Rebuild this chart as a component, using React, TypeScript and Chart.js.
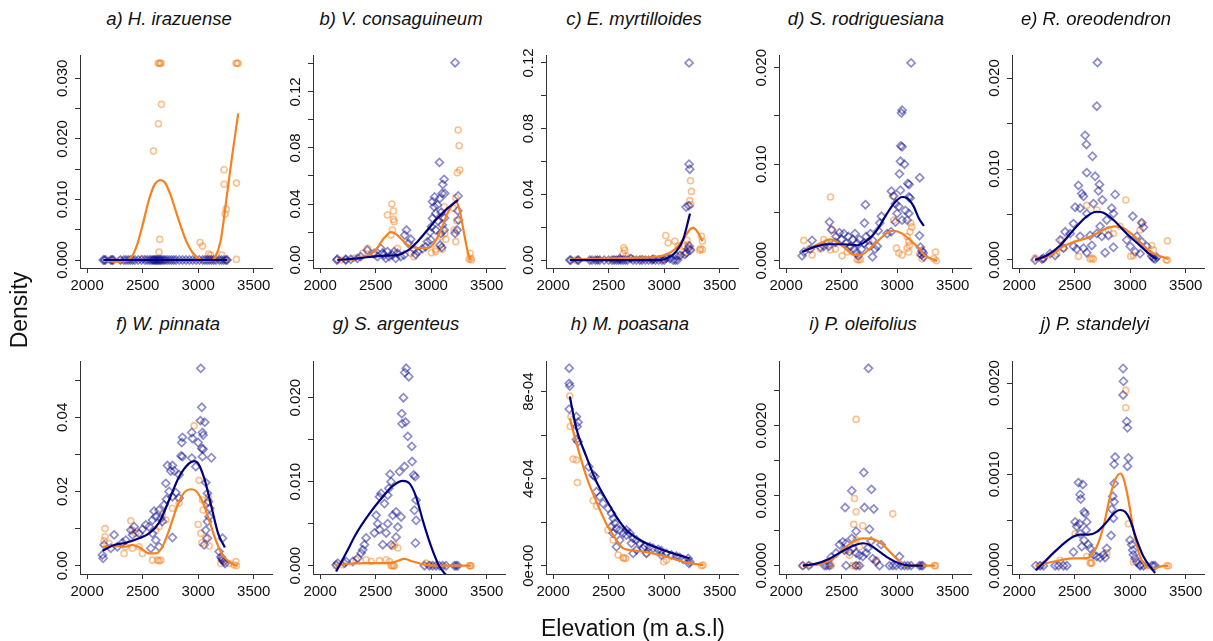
import React, { useEffect, useRef } from 'react';
import { Chart, registerables } from 'chart.js';

Chart.register(...registerables);

type P = [number, number];

// ---------- shared axis values ----------
const xTicks = [2000, 2500, 3000, 3500];
const xLimits = [1936, 3664];

// ---------- a) H. irazuense ----------
const aOrange: P[] = [[2640,0.0325],[2650,0.0325],[2658,0.0325],[2665,0.0325],[3340,0.0325],[3350,0.0325],[3358,0.0325],[2669,0.0257],[2642,0.0225],[2597,0.018],[3233,0.0149],[3233,0.0125],[3344,0.0127],[3251,0.0084],[3242,0.0076],[2654,0.0034],[2648,0.0013],[3017,0.0029],[3038,0.0023],[3095,0.001],[3113,0.0008],[3212,0.0008],[3344,0.0001],[2200,0],[2300,0],[2500,0.0002],[2600,0],[2700,0],[3100,0.0002],[3250,0]];
const aBlue: P[] = [[2145,0],[2155,0],[2165,0],[2215,0],[2225,0],[2235,0],[2300,0],[2330,0],[2350,0],[2370,0],[2390,0],[2410,0],[2430,0],[2460,0],[2490,0],[2520,0],[2540,0],[2560,0],[2575,0],[2590,0],[2600,0],[2610,0],[2620,0],[2630,0],[2640,0],[2650,0],[2660,0],[2670,0],[2685,0],[2700,0],[2720,0],[2740,0],[2760,0],[2780,0],[2800,0],[2830,0],[2860,0],[2890,0],[2920,0],[2950,0],[2980,0],[3010,0],[3040,0],[3060,0],[3080,0],[3100,0],[3120,0],[3140,0],[3160,0],[3190,0],[3210,0],[3230,0],[3250,0],[3260,0]];
const aOrangeLine: P[] = [[2150,0],[2250,-0.0003],[2330,-0.0002],[2400,0.0005],[2450,0.0025],[2500,0.0058],[2550,0.0095],[2600,0.0122],[2660,0.0132],[2700,0.0128],[2750,0.0108],[2800,0.008],[2850,0.0052],[2900,0.0028],[2950,0.0012],[3000,0.0003],[3050,-0.0001],[3110,-0.0001],[3150,0.0004],[3200,0.003],[3250,0.0095],[3300,0.0165],[3360,0.0242]];
const aBlueLine: P[] = [[2145,0],[2700,0],[3260,0]];
const aYTicks = [0, 0.005, 0.01, 0.015, 0.02, 0.025, 0.03];
const aYLabels = ['0.000', '', '0.010', '', '0.020', '', '0.030'];

// ---------- b) V. consaguineum ----------
const bOrange: P[] = [[3242,0.0928],[3251,0.0816],[3257,0.0643],[3236,0.0624],[3221,0.0445],[3200,0.0369],[3230,0.0281],[3206,0.0214],[3221,0.0131],[3116,0.038],[3101,0.0305],[3122,0.019],[3131,0.0148],[3101,0.0076],[3086,0.0167],[3041,0.0076],[3002,0.0052],[3041,0.006],[2645,0.04],[2660,0.035],[2660,0.029],[2666,0.0274],[2606,0.0321],[2651,0.0214],[2636,0.0178],[2426,0.0083],[2381,0.0048],[2486,0.0036],[2696,0.0083],[2816,0.0048],[2846,0.0024],[3350,0.0048],[3356,0.0012],[3341,0.0005],[3362,0],[2306,0.0012],[2186,0]];
const bBlue: P[] = [[3215,0.1409],[3074,0.0697],[3116,0.0576],[3104,0.054],[3098,0.0476],[3077,0.044],[3122,0.0476],[3242,0.0457],[3239,0.0352],[3245,0.0286],[3233,0.0214],[3215,0.019],[3011,0.0417],[3026,0.038],[3056,0.0393],[3041,0.0333],[3011,0.0298],[3002,0.0238],[3041,0.0214],[3086,0.019],[3116,0.0214],[3080,0.0107],[3095,0.009],[2966,0.013],[2951,0.0095],[2996,0.0143],[3030,0.045],[3060,0.028],[3090,0.034],[3120,0.03],[3100,0.025],[2990,0.02],[2777,0.0214],[2762,0.0178],[2816,0.0148],[2795,0.0119],[2846,0.0076],[2880,0.006],[2860,0.004],[2920,0.008],[2426,0.007],[2486,0.0048],[2546,0.0083],[2576,0.0036],[2606,0.006],[2651,0.0036],[2696,0.0048],[2726,0.0024],[2621,0.0024],[2666,0.006],[2561,0.005],[2756,0.0036],[2336,0.0012],[2276,0.0005],[2231,0.0005],[2150,0],[2156,0.0005],[2231,0],[2366,0.0024],[2516,0.0024],[2591,0.0012],[2681,0.0012]];
const bOrangeLine: P[] = [[2156,0],[2336,0.001],[2486,0.006],[2580,0.016],[2640,0.02],[2700,0.0175],[2786,0.0107],[2876,0.0085],[2966,0.0085],[3026,0.012],[3086,0.0214],[3161,0.0357],[3221,0.0417],[3251,0.037],[3296,0.019],[3332,0.0048],[3355,0]];
const bBlueLine: P[] = [[2156,0],[2336,0.0012],[2546,0.003],[2696,0.0036],[2786,0.0067],[2876,0.0131],[2966,0.0214],[3056,0.0298],[3146,0.0369],[3240,0.0428]];
const bYTicks = [0, 0.02, 0.04, 0.06, 0.08, 0.1, 0.12, 0.14];
const bYLabels = ['0.00', '', '0.04', '', '0.08', '', '0.12', ''];

// ---------- c) E. myrtilloides ----------
const cOrange: P[] = [[3236,0.0483],[3245,0.0418],[3230,0.0362],[3239,0.0337],[3206,0.0121],[3215,0.0095],[3239,0.0069],[3185,0.0085],[3014,0.015],[3035,0.0105],[3095,0.0115],[3125,0.0085],[3335,0.0145],[3344,0.0115],[3326,0.0069],[3344,0.0065],[3320,0.006],[2636,0.0075],[2645,0.006],[2630,0.004],[2660,0.0024],[2200,0],[2400,0.0003],[2550,0.0005],[2700,0.001],[2800,0.0008],[2900,0.0005],[3000,0.0004],[3150,0.003],[3180,0.005]];
const cBlue: P[] = [[3224,0.12],[3224,0.0584],[3230,0.0553],[3221,0.0331],[3197,0.0323],[3224,0.0085],[3215,0.0069],[3200,0.0044],[3185,0.0034],[3236,0.006],[3020,0.0014],[3110,0.0024],[3140,0.0028],[2150,0],[2160,0],[2220,0],[2230,0],[2330,0],[2350,0],[2380,0],[2400,0],[2420,0],[2460,0],[2500,0],[2530,0],[2550,0],[2570,0],[2590,0],[2600,0.0008],[2610,0],[2630,0],[2650,0],[2670,0],[2700,0.001],[2720,0],[2750,0],[2780,0],[2800,0],[2830,0],[2860,0],[2890,0],[2900,0.0006],[2920,0],[2950,0],[2980,0],[3000,0],[3050,0.001],[3080,0],[3100,0],[3120,0]];
const cOrangeLine: P[] = [[2150,0.0003],[2690,0.0014],[2900,0.0018],[3020,0.0034],[3110,0.0075],[3185,0.0141],[3239,0.0192],[3262,0.0196],[3305,0.0166],[3344,0.0115]];
const cBlueLine: P[] = [[2150,0],[2960,0],[3035,0.0014],[3110,0.0055],[3170,0.0125],[3232,0.0283]];
const cYTicks = [0, 0.02, 0.04, 0.06, 0.08, 0.1, 0.12];
const cYLabels = ['0.00', '', '0.04', '', '0.08', '', '0.12'];

// ---------- d) S. rodriguesiana ----------
const dOrange: P[] = [[2399,0.0066],[2414,0.0032],[2339,0.0022],[2369,0.0019],[2309,0.0012],[2159,0.0021],[2204,0.0012],[2234,0.0006],[2444,0.0012],[2399,0.0011],[2504,0.0005],[2549,0.0009],[2579,0.0015],[2639,0.0001],[2654,0.0001],[2669,0.0001],[2744,0.002],[2963,0.0067],[2969,0.0042],[2993,0.0013],[3014,0.0008],[3044,0.0006],[3089,0.0013],[3104,0.0009],[3110,0.0016],[3116,0.003],[3131,0.0035],[3122,0.0039],[3089,0.0025],[3104,0.002],[3203,0.0007],[3224,0.0002],[3329,0.0002],[3344,0.0009],[3353,0]];
const dBlue: P[] = [[3125,0.0205],[3044,0.0156],[3038,0.0153],[3032,0.0119],[3044,0.0118],[3029,0.0103],[3065,0.01],[3020,0.009],[3203,0.0086],[3095,0.008],[3107,0.0079],[2948,0.0072],[3029,0.0073],[3116,0.0065],[3104,0.0066],[2969,0.0067],[2984,0.0059],[3014,0.0056],[3074,0.0052],[3104,0.0049],[2999,0.0049],[3044,0.0042],[3089,0.0042],[2984,0.004],[2945,0.003],[2909,0.0028],[3200,0.0026],[2858,0.0046],[2843,0.0039],[2828,0.0031],[2714,0.0058],[2705,0.0039],[2390,0.004],[2408,0.0032],[2450,0.0025],[2480,0.0029],[2500,0.0022],[2520,0.0028],[2540,0.0018],[2560,0.0025],[2580,0.0015],[2600,0.0022],[2610,0.0012],[2620,0.0028],[2630,0.0008],[2640,0.0018],[2650,0.0005],[2660,0.0022],[2680,0.0012],[2700,0.0018],[2720,0.0025],[2750,0.0015],[2760,0.0028],[2780,0.0021],[2800,0.0012],[2820,0.0015],[2777,0.0004],[2144,0.0005],[2159,0.0009],[2219,0.0012],[2234,0.0021],[2309,0.0014],[2339,0.0015],[2384,0.0015],[2444,0.0019],[3209,0.0014],[3224,0.001],[3233,0.0008],[3218,0.0006],[3239,0.0004]];
const dOrangeLine: P[] = [[2144,0.0009],[2309,0.0018],[2399,0.0022],[2474,0.0018],[2549,0.0011],[2609,0.0006],[2669,0.0006],[2759,0.0013],[2849,0.0023],[2924,0.003],[2969,0.0031],[3044,0.0028],[3119,0.0021],[3194,0.0013],[3254,0.0005],[3329,0.0001],[3359,0]];
const dBlueLine: P[] = [[2144,0.0009],[2249,0.0014],[2369,0.0017],[2519,0.0017],[2639,0.0016],[2729,0.0021],[2819,0.0032],[2909,0.0049],[2984,0.0061],[3044,0.0066],[3089,0.0065],[3149,0.0056],[3194,0.0044],[3240,0.0036]];
const dYTicks = [0, 0.005, 0.01, 0.015, 0.02];
const dYLabels = ['0.000', '', '0.010', '', '0.020'];

// ---------- e) R. oreodendron ----------
const eOrange: P[] = [[2960,0.0066],[2609,0.006],[2700,0.0055],[3104,0.004],[3089,0.0033],[3335,0.0021],[3194,0.0016],[3209,0.0011],[3029,0.0005],[3005,0.0004],[2384,0.0022],[2399,0.0013],[2339,0.0007],[2639,0.0001],[2654,0.0002],[2669,0.0001],[2534,0.0004],[2804,0.0033],[2849,0.0029],[2909,0.0037],[3323,0],[3335,0],[3179,0.0007],[2144,0.0002],[2219,0.0001]];
const eBlue: P[] = [[2705,0.0217],[2699,0.0169],[2594,0.0137],[2606,0.0127],[2660,0.0114],[2684,0.0092],[2609,0.0096],[2534,0.0082],[2723,0.0083],[2714,0.0076],[2564,0.0073],[2579,0.007],[2669,0.0062],[2749,0.0066],[2864,0.0072],[2504,0.0058],[2549,0.0057],[2609,0.0051],[2489,0.004],[2414,0.0031],[2459,0.0029],[2834,0.0057],[2849,0.0051],[2789,0.0044],[2729,0.0037],[2804,0.0027],[2849,0.0014],[2774,0.0008],[2744,0.0026],[2699,0.0029],[3023,0.0048],[3119,0.0036],[3104,0.0041],[2969,0.0022],[3000,0.0015],[3044,0.0009],[3089,0.0007],[3149,0.0015],[3059,0.0026],[3104,0.002],[2369,0.0022],[2324,0.0005],[2279,0.0007],[2399,0.0013],[2489,0.0015],[2519,0.0012],[2549,0.0026],[2579,0.0013],[2609,0.0008],[2639,0.0027],[2654,0.0016],[2144,0],[2204,0.0001],[2219,0.0002],[3194,0.0004],[3209,0.0002],[3224,0.0001],[3239,0.0003]];
const eOrangeLine: P[] = [[2144,0.0001],[2279,0.0005],[2399,0.0015],[2519,0.0021],[2609,0.0024],[2699,0.0029],[2789,0.0035],[2864,0.0037],[2939,0.0035],[3029,0.0027],[3119,0.0016],[3209,0.0007],[3299,0.0003],[3344,0.0001]];
const eBlueLine: P[] = [[2144,0],[2249,0.0005],[2369,0.0016],[2489,0.0033],[2609,0.0048],[2699,0.0053],[2759,0.0052],[2849,0.0044],[2969,0.0029],[3059,0.0019],[3149,0.0009],[3224,0.0002],[3240,0.0001]];
const eYTicks = [0, 0.005, 0.01, 0.015, 0.02];
const eYLabels = ['0.000', '', '0.010', '', '0.020'];

// ---------- f) W. pinnata ----------
const fOrange: P[] = [[2963,0.0377],[3008,0.023],[3038,0.0177],[3083,0.0168],[3092,0.0184],[3044,0.015],[2999,0.0111],[3023,0.0087],[3032,0.0062],[3098,0.0053],[3068,0.0074],[2828,0.0168],[2768,0.0155],[2678,0.0141],[2708,0.0123],[2648,0.0105],[2618,0.0096],[2162,0.01],[2162,0.0078],[2153,0.0067],[2198,0.006],[2393,0.0121],[2408,0.0096],[2438,0.0087],[2333,0.0033],[2348,0.0051],[2468,0.0051],[2498,0.0033],[2408,0.0047],[2633,0.0015],[2648,0.0013],[2663,0.0015],[2588,0.0015],[3338,0.0011],[3344,0],[3323,0.0002],[3278,0.0006],[3218,0.0015],[3203,0.0006]];
const fBlue: P[] = [[3023,0.0532],[3032,0.0427],[3020,0.0391],[3059,0.0387],[3038,0.0359],[3044,0.0352],[2999,0.0332],[3032,0.0316],[2942,0.0359],[2948,0.0343],[2858,0.0346],[2852,0.0332],[2846,0.0296],[2858,0.0294],[2768,0.027],[2723,0.027],[2753,0.0255],[2783,0.0256],[2828,0.0245],[2942,0.029],[2978,0.0267],[3044,0.0314],[3038,0.0294],[3119,0.0291],[3068,0.0224],[3083,0.0195],[3092,0.0173],[3104,0.0155],[3098,0.0132],[3083,0.0119],[3068,0.0096],[3083,0.0074],[3053,0.0056],[2708,0.0222],[2738,0.02],[2768,0.0186],[2798,0.0197],[2828,0.0182],[2714,0.0179],[2693,0.0164],[2648,0.015],[2603,0.0147],[2618,0.0132],[2663,0.0128],[2678,0.0119],[2588,0.0123],[2558,0.0105],[2528,0.011],[2498,0.0098],[2468,0.0087],[2423,0.0105],[2393,0.0096],[2408,0.0083],[2348,0.0069],[2318,0.0062],[2273,0.0051],[2213,0.0047],[2153,0.0056],[2138,0.0029],[2144,0.002],[2243,0.0083],[2588,0.0087],[2618,0.0069],[2648,0.0051],[2573,0.0047],[2768,0.0076],[3188,0.0038],[3203,0.0024],[3218,0.0015],[3233,0.0011],[3212,0.002],[3242,0.0006],[3218,0.0074]];
const fOrangeLine: P[] = [[2138,0.0051],[2259,0.0053],[2348,0.0051],[2408,0.0056],[2483,0.0047],[2558,0.0033],[2618,0.0033],[2678,0.0051],[2738,0.0096],[2798,0.015],[2858,0.0191],[2933,0.0206],[2978,0.0202],[3038,0.0173],[3098,0.0123],[3158,0.0069],[3218,0.0029],[3278,0.0011],[3323,0.0002],[3353,0]];
const fBlueLine: P[] = [[2138,0.004],[2243,0.0056],[2348,0.0062],[2468,0.0074],[2558,0.0087],[2648,0.0116],[2738,0.0177],[2828,0.024],[2918,0.0276],[2963,0.0282],[2999,0.0276],[3059,0.0231],[3119,0.0159],[3179,0.0087],[3240,0.0049]];
const fYTicks = [0, 0.01, 0.02, 0.03, 0.04, 0.05];
const fYLabels = ['0.00', '', '0.02', '', '0.04', ''];

// ---------- g) S. argenteus ----------
const gOrange: P[] = [[2654,0.0023],[2699,0.0021],[2669,0.0025],[2324,0.0007],[2414,0.0007],[2459,0.0005],[2534,0.0006],[2594,0.0007],[2624,0.0005],[2639,0],[2650,0],[2660,0],[2669,0],[2144,0],[2204,0.0001],[3344,0],[3352,0],[3359,0],[2954,0.0003],[2984,0.0001]];
const gBlue: P[] = [[2774,0.0235],[2762,0.023],[2798,0.0225],[2750,0.02],[2735,0.0181],[2768,0.0171],[2738,0.0169],[2789,0.0154],[2825,0.0142],[2828,0.0124],[2843,0.0108],[2855,0.0106],[2714,0.0112],[2759,0.0118],[2630,0.0109],[2639,0.01],[2618,0.0092],[2609,0.0084],[2549,0.0086],[2534,0.0082],[2579,0.0074],[2504,0.006],[2519,0.005],[2534,0.0043],[2489,0.0039],[2594,0.0039],[2609,0.005],[2654,0.006],[2684,0.0064],[2729,0.0058],[2699,0.0046],[2684,0.0034],[2639,0.0025],[2564,0.0025],[2864,0.0078],[2849,0.0066],[2864,0.0054],[2858,0.0027],[2414,0.0033],[2399,0.0025],[2384,0.0019],[2369,0.0015],[2339,0.0009],[2294,0.0005],[2144,0.0001],[2159,0.0003],[2219,0.0003],[2234,0.0005],[2939,0],[2984,0],[3014,0],[3044,0],[3074,0],[3104,0],[3134,0],[3209,0],[3224,0],[3239,0]];
const gOrangeLine: P[] = [[2144,0],[2234,0.0002],[2414,0.0003],[2594,0.0003],[2684,0.0005],[2759,0.0008],[2834,0.0005],[2954,0.0001],[3074,0],[3360,0]];
const gBlueLine: P[] = [[2144,-0.0007],[2234,0.0015],[2324,0.0038],[2444,0.0062],[2564,0.0082],[2654,0.0095],[2744,0.0101],[2804,0.0098],[2864,0.0082],[2924,0.0054],[2999,0.0023],[3074,-0.0001],[3134,-0.0011],[3180,-0.0018]];
const gYTicks = [0, 0.005, 0.01, 0.015, 0.02];
const gYLabels = ['0.000', '', '0.010', '', '0.020'];

// ---------- h) M. poasana ----------
const hOrange: P[] = [[2150,7.8e-4],[2160,6.85e-4],[2154,6.4e-4],[2180,4.9e-4],[2210,4.86e-4],[2219,3.82e-4],[2390,2.74e-4],[2360,3.0e-4],[2495,1.64e-4],[2540,1.18e-4],[2585,0.49e-4],[2630,0.38e-4],[2636,0.34e-4],[2654,0.34e-4],[2840,0.57e-4],[2995,0.18e-4],[3020,0.26e-4],[3335,0],[3350,0.03e-4]];
const hBlue: P[] = [[2145,9.08e-4],[2145,8.38e-4],[2150,8.26e-4],[2145,7.2e-4],[2210,6.85e-4],[2225,6.6e-4],[2216,6.4e-4],[2210,5.8e-4],[2225,5.7e-4],[2321,4.55e-4],[2360,4.17e-4],[2375,4.1e-4],[2390,3.4e-4],[2420,3.17e-4],[2450,2.87e-4],[2495,2.64e-4],[2525,2.4e-4],[2540,2.18e-4],[2555,1.95e-4],[2570,1.72e-4],[2600,1.64e-4],[2630,1.49e-4],[2660,1.41e-4],[2690,1.49e-4],[2720,1.26e-4],[2750,1.18e-4],[2780,1.03e-4],[2825,0.9e-4],[2870,0.87e-4],[2900,0.8e-4],[2945,0.75e-4],[2975,0.69e-4],[3020,0.57e-4],[3065,0.49e-4],[3110,0.44e-4],[3140,0.38e-4],[3170,0.29e-4],[3215,0.34e-4],[3224,0.1e-4],[3230,0.18e-4],[2570,0.87e-4],[2600,1.18e-4],[2720,0.57e-4],[2750,0.72e-4],[2810,0.8e-4],[2540,1.49e-4],[2525,1.8e-4],[2660,1.64e-4],[2705,1.03e-4],[2975,0.49e-4],[2840,0.57e-4]];
const hOrangeLine: P[] = [[2150,6.78e-4],[2210,5.63e-4],[2300,4.09e-4],[2390,2.94e-4],[2480,1.92e-4],[2570,1.18e-4],[2630,0.8e-4],[2750,0.69e-4],[2900,0.57e-4],[3020,0.41e-4],[3140,0.23e-4],[3260,0.1e-4],[3350,0.03e-4]];
const hBlueLine: P[] = [[2150,7.78e-4],[2210,6.3e-4],[2300,5.0e-4],[2390,3.86e-4],[2480,3.02e-4],[2570,2.25e-4],[2660,1.64e-4],[2780,1.18e-4],[2930,0.84e-4],[3080,0.57e-4],[3230,0.34e-4]];
const hYTicks = [0, 2e-4, 4e-4, 6e-4, 8e-4];
const hYLabels = ['0e+00', '', '4e-04', '', '8e-04'];

// ---------- i) P. oleifolius ----------
const iOrange: P[] = [[2630,0.00209],[2615,0.00096],[2630,0.00077],[2609,0.00059],[2690,0.00057],[2960,0.00074],[2630,0.00037],[2660,0.00027],[2540,0.00022],[2570,0.00015],[2405,0],[2390,0.00003],[2600,0],[2620,0],[2645,0],[2810,0.00008],[3335,0],[3344,0],[2150,0],[2210,0.00001]];
const iBlue: P[] = [[2741,0.00282],[2699,0.00133],[2768,0.00109],[2591,0.00107],[2531,0.00083],[2705,0.00083],[2789,0.00081],[2750,0.00052],[2630,0.00049],[2591,0.00039],[2510,0.00034],[2480,0.0003],[2540,0.00032],[2765,0.00035],[2855,0.0003],[2735,0.00025],[2525,0.00022],[2570,0.0002],[2600,0.00025],[2630,0.00018],[2660,0.00015],[2690,0.00013],[2720,0.00018],[2780,0.0001],[2810,0.00006],[2405,0.00012],[2450,0.00018],[3020,0.00013],[2150,0],[2204,0],[2345,0],[2366,0],[2390,0],[2540,0],[2630,0],[2660,0],[2840,0],[2930,0],[2960,0],[2990,0],[3035,0],[3065,0],[3095,0],[3125,0],[3200,0],[3215,0],[3230,0]];
const iOrangeLine: P[] = [[2150,0],[2300,0.00002],[2420,0.0001],[2510,0.00023],[2600,0.00034],[2690,0.00039],[2780,0.00038],[2870,0.0003],[2945,0.00018],[3020,0.00006],[3080,0],[3200,0],[3344,0]];
const iBlueLine: P[] = [[2150,0],[2270,0.00003],[2390,0.0001],[2510,0.00021],[2600,0.00028],[2690,0.00032],[2750,0.0003],[2840,0.0002],[2930,0.0001],[3020,0.00003],[3110,0],[3230,0]];
const iYTicks = [0, 0.0005, 0.001, 0.0015, 0.002, 0.0025];
const iYLabels = ['0.0000', '', '0.0010', '', '0.0020', ''];

// ---------- j) P. standelyi ----------
const jOrange: P[] = [[2960,0.00192],[2960,0.00173],[2984,0.00046],[2504,0.00035],[2639,0.00003],[2648,0.00003],[2654,0.00003],[2609,0.0001],[2369,0.00006],[2189,0],[3029,0.00004],[3149,0],[3329,0],[3344,0],[2789,0.00014]];
const jBlue: P[] = [[2936,0.00216],[2939,0.00202],[2936,0.00187],[2969,0.00158],[2975,0.00151],[2864,0.00119],[2855,0.00111],[2984,0.00118],[2975,0.00109],[2855,0.0009],[2843,0.00076],[2855,0.0007],[2834,0.00062],[2849,0.00052],[2828,0.00033],[2534,0.00091],[2573,0.00089],[2549,0.00078],[2555,0.00073],[2504,0.00048],[2543,0.00046],[2585,0.00059],[2594,0.00057],[2609,0.00048],[2519,0.00043],[2549,0.00035],[2585,0.00028],[2624,0.00023],[2603,0.00039],[2639,0.00019],[2564,0.00021],[2489,0.00015],[2669,0.00012],[2699,0.0001],[2729,0.00009],[2759,0.00012],[2789,0.00019],[2774,0.00009],[2999,0.00028],[3014,0.00023],[3023,0.00017],[3029,0.00012],[3044,0.00008],[3059,0.00004],[3089,0.00001],[2150,0],[2189,0],[2219,0],[2324,0],[2354,0],[2399,0],[2429,0],[3089,0],[3119,0],[3194,0],[3209,0],[3224,0]];
const jOrangeLine: P[] = [[2150,0],[2249,0.00003],[2369,0.00006],[2489,0.00008],[2579,0.00008],[2639,0.0001],[2699,0.00021],[2759,0.00043],[2819,0.00076],[2864,0.00094],[2910,0.00101],[2939,0.00096],[2984,0.00072],[3029,0.00039],[3089,0.0001],[3149,-0.00001],[3209,-0.00003],[3269,-0.00001],[3344,0]];
const jBlueLine: P[] = [[2150,-0.00005],[2219,0.00003],[2309,0.00014],[2399,0.00024],[2489,0.00032],[2549,0.00034],[2624,0.00034],[2699,0.00037],[2789,0.00048],[2849,0.00057],[2909,0.00061],[2954,0.00059],[2999,0.0005],[3059,0.00028],[3119,0.0001],[3179,-0.00001],[3224,-0.00008]];
const jYTicks = [0, 0.0005, 0.001, 0.0015, 0.002];
const jYLabels = ['0.0000', '', '0.0010', '', '0.0020'];

// ---------- panel table ----------
const titles = ['a) H. irazuense', 'b) V. consaguineum', 'c) E. myrtilloides', 'd) S. rodriguesiana', 'e) R. oreodendron', 'f) W. pinnata', 'g) S. argenteus', 'h) M. poasana', 'i) P. oleifolius', 'j) P. standelyi'];
const yRanges: P[] = [[-0.00132, 0.03385], [-0.0057, 0.1464], [-0.0048, 0.1248], [-0.00076, 0.02132], [-0.00088, 0.02253], [-0.00224, 0.05518], [-0.00099, 0.02437], [-0.38e-4, 9.41e-4], [-0.000119, 0.002924], [-0.0000909, 0.002242]];

interface Spec { title: string; range: P; ticks: number[]; labels: string[]; orange: P[]; blue: P[]; orangeLine: P[]; blueLine: P[]; }

const specs: Spec[] = [
  { title: titles[0], range: yRanges[0], ticks: aYTicks, labels: aYLabels, orange: aOrange, blue: aBlue, orangeLine: aOrangeLine, blueLine: aBlueLine },
  { title: titles[1], range: yRanges[1], ticks: bYTicks, labels: bYLabels, orange: bOrange, blue: bBlue, orangeLine: bOrangeLine, blueLine: bBlueLine },
  { title: titles[2], range: yRanges[2], ticks: cYTicks, labels: cYLabels, orange: cOrange, blue: cBlue, orangeLine: cOrangeLine, blueLine: cBlueLine },
  { title: titles[3], range: yRanges[3], ticks: dYTicks, labels: dYLabels, orange: dOrange, blue: dBlue, orangeLine: dOrangeLine, blueLine: dBlueLine },
  { title: titles[4], range: yRanges[4], ticks: eYTicks, labels: eYLabels, orange: eOrange, blue: eBlue, orangeLine: eOrangeLine, blueLine: eBlueLine },
  { title: titles[5], range: yRanges[5], ticks: fYTicks, labels: fYLabels, orange: fOrange, blue: fBlue, orangeLine: fOrangeLine, blueLine: fBlueLine },
  { title: titles[6], range: yRanges[6], ticks: gYTicks, labels: gYLabels, orange: gOrange, blue: gBlue, orangeLine: gOrangeLine, blueLine: gBlueLine },
  { title: titles[7], range: yRanges[7], ticks: hYTicks, labels: hYLabels, orange: hOrange, blue: hBlue, orangeLine: hOrangeLine, blueLine: hBlueLine },
  { title: titles[8], range: yRanges[8], ticks: iYTicks, labels: iYLabels, orange: iOrange, blue: iBlue, orangeLine: iOrangeLine, blueLine: iBlueLine },
  { title: titles[9], range: yRanges[9], ticks: jYTicks, labels: jYLabels, orange: jOrange, blue: jBlue, orangeLine: jOrangeLine, blueLine: jBlueLine },
];

// ---------- layout & style ----------
const FONT = '"Liberation Sans", Arial, Helvetica, sans-serif';
const TEXT = '#111111';
const AXIS = '#333333';
const ORANGE_LINE = '#F5821F';
const ORANGE_PT = 'rgba(245,130,31,0.5)';
const BLUE_LINE = '#00007F';
const BLUE_PT = 'rgba(0,0,139,0.45)';
const COL_LEFT = [80, 313, 546, 779, 1012];
const ROW_TOP = [55, 361];
const PLOT_W = 192;
const PLOT_H = 213;
const PAD_L = 60, PAD_T = 12, PAD_R = 12, PAD_B = 40;
const TITLE_CX = [169, 401, 634, 866, 1096, 168, 396, 630, 863, 1095];
const TITLE_CY = [19, 324];
const TICK_FONT = 15;

const toXY = (arr: P[]) => arr.map(([x, y]) => ({ x, y }));

function Panel({ spec, index }: { spec: Spec; index: number }) {
  const ref = useRef<HTMLCanvasElement | null>(null);
  const col = index % 5;
  const row = Math.floor(index / 5);
  const W = PAD_L + PLOT_W + PAD_R;
  const H = PAD_T + PLOT_H + PAD_B;

  useEffect(() => {
    if (!ref.current) return;
    const yLabelPlugin = {
      id: 'yRotLabels' + index,
      afterDraw(chart: any) {
        const ys = chart.scales.y;
        const ctx = chart.ctx;
        ctx.save();
        ctx.font = `${TICK_FONT}px ${FONT}`;
        ctx.fillStyle = TEXT;
        ctx.textAlign = 'center';
        ctx.textBaseline = 'alphabetic';
        spec.ticks.forEach((t, i) => {
          const lab = spec.labels[i];
          if (!lab) return;
          const py = ys.getPixelForValue(t);
          ctx.save();
          ctx.translate(chart.chartArea.left - 13.5, py);
          ctx.rotate(-Math.PI / 2);
          ctx.fillText(lab, 0, 0);
          ctx.restore();
        });
        ctx.restore();
      },
    };
    const ptBase = { showLine: false, pointBackgroundColor: 'rgba(0,0,0,0)', pointHoverRadius: 0 };
    const chart = new Chart(ref.current, {
      type: 'scatter',
      data: {
        datasets: [
          { data: toXY(spec.blueLine), showLine: true, borderColor: BLUE_LINE, borderWidth: 2.2, pointRadius: 0, cubicInterpolationMode: 'monotone', order: 0, clip: 0 } as any,
          { data: toXY(spec.orangeLine), showLine: true, borderColor: ORANGE_LINE, borderWidth: 2.2, pointRadius: 0, cubicInterpolationMode: 'monotone', order: 1, clip: 0 } as any,
          { data: toXY(spec.blue), ...ptBase, pointStyle: 'rectRot', pointRadius: 4, pointBorderWidth: 1.7, pointBorderColor: BLUE_PT, order: 2, clip: false } as any,
          { data: toXY(spec.orange), ...ptBase, pointStyle: 'circle', pointRadius: 3, pointBorderWidth: 1.6, pointBorderColor: ORANGE_PT, order: 3, clip: false } as any,
        ],
      },
      options: {
        responsive: false,
        animation: false,
        devicePixelRatio: 1,
        events: [],
        layout: { padding: { left: 0, top: PAD_T, right: PAD_R, bottom: 0 } },
        plugins: { legend: { display: false }, title: { display: false }, tooltip: { enabled: false } },
        scales: {
          x: {
            type: 'linear',
            min: xLimits[0],
            max: xLimits[1],
            bounds: 'data',
            afterBuildTicks: (s: any) => { s.ticks = xTicks.map((v) => ({ value: v })); },
            afterFit: (s: any) => { s.height = PAD_B; },
            ticks: { autoSkip: false, maxRotation: 0, minRotation: 0, padding: 4, color: TEXT, font: { family: FONT, size: TICK_FONT }, callback: (v: any) => String(v) },
            grid: { display: true, drawOnChartArea: false, drawTicks: true, tickLength: 5, color: AXIS, lineWidth: 1 },
            border: { display: true, color: AXIS, width: 1 },
          },
          y: {
            type: 'linear',
            min: spec.range[0],
            max: spec.range[1],
            bounds: 'data',
            afterBuildTicks: (s: any) => { s.ticks = spec.ticks.map((v) => ({ value: v })); },
            afterFit: (s: any) => { s.width = PAD_L; },
            ticks: { display: false },
            grid: { display: true, drawOnChartArea: false, drawTicks: true, tickLength: 5, color: AXIS, lineWidth: 1 },
            border: { display: true, color: AXIS, width: 1 },
          },
        },
      } as any,
      plugins: [yLabelPlugin],
    });
    return () => chart.destroy();
  }, [spec, index]);

  const left = COL_LEFT[col] - PAD_L;
  const top = ROW_TOP[row] - PAD_T;
  return (
    <>
      <canvas ref={ref} width={W} height={H} style={{ position: 'absolute', left, top, width: W, height: H }} />
      <div style={{ position: 'absolute', left: TITLE_CX[index] - 150, top: TITLE_CY[row] - 11, width: 300, height: 22, lineHeight: '22px', textAlign: 'center', fontStyle: 'italic', fontSize: 18.5, color: TEXT, whiteSpace: 'nowrap' }}>{spec.title}</div>
    </>
  );
}

export default function App() {
  return (
    <div style={{ position: 'absolute', left: 0, top: 0, width: 1213, height: 641, background: '#ffffff', fontFamily: FONT, overflow: 'hidden' }}>
      {specs.map((s, i) => <Panel key={i} spec={s} index={i} />)}
      <div style={{ position: 'absolute', left: 19 - 60, top: 310 - 13, width: 120, height: 26, lineHeight: '26px', textAlign: 'center', fontSize: 23, color: TEXT, transform: 'rotate(-90deg)' }}>Density</div>
      <div style={{ position: 'absolute', left: 633 - 150, top: 628 - 13, width: 300, height: 26, lineHeight: '26px', textAlign: 'center', fontSize: 23, color: TEXT }}>Elevation (m a.s.l)</div>
    </div>
  );
}
